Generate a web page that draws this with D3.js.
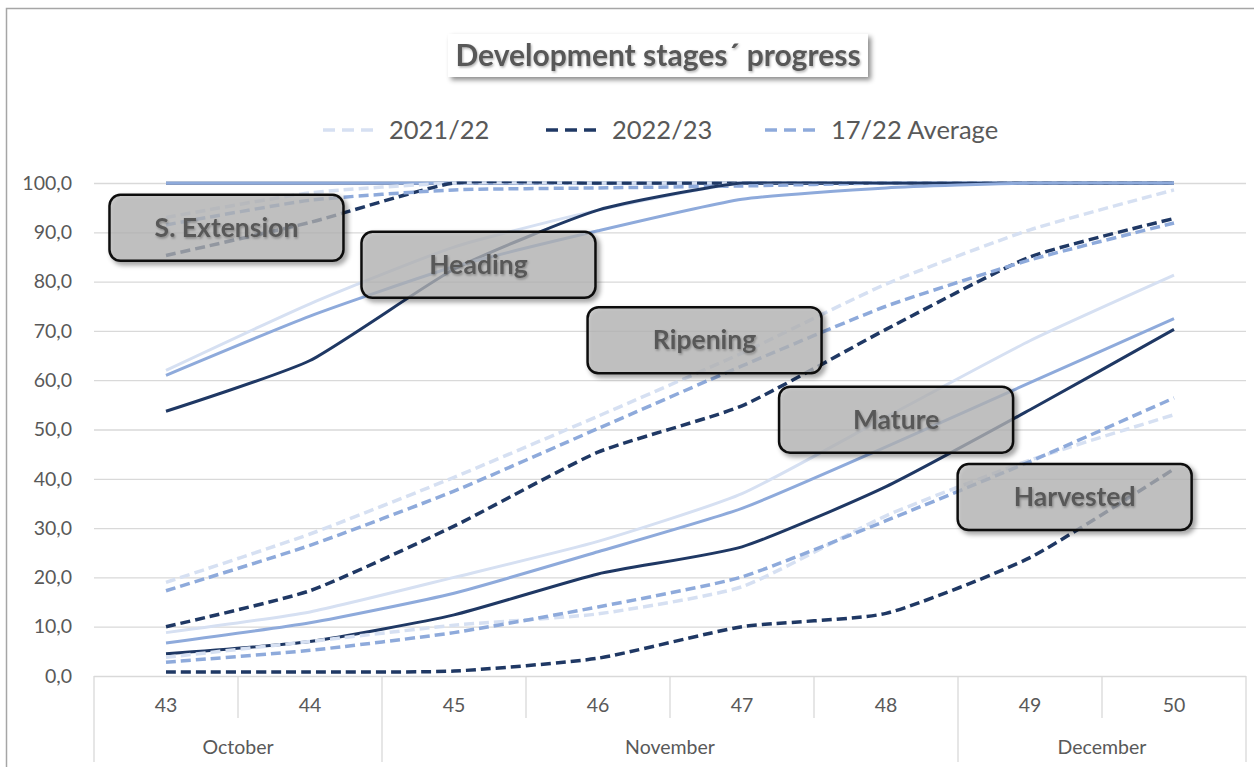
<!DOCTYPE html>
<html>
<head>
<meta charset="utf-8">
<script src="https://cdn.jsdelivr.net/npm/d3@7/dist/d3.min.js"></script>
<style>
  body { margin: 0; background: #fff; }
  svg { display: block; }
</style>
</head>
<body>
<div id="chart"></div>
<script>
// categories
var weeks = ['43', '44', '45', '46', '47', '48', '49', '50'];
var monthNames = ['October', 'November', 'December'];
var monthSpans = [2, 4, 2];
var seriesNames = ['2021/22', '2022/23', '17/22 Average'];
var yTicks = [0, 10, 20, 30, 40, 50, 60, 70, 80, 90, 100];

// stage values, % progress per week
var first2122 = [100, 100, 100, 100, 100, 100, 100, 100];
var first2223 = [100, 100, 100, 100, 100, 100, 100, 100];
var firstAvg  = [100, 100, 100, 100, 100, 100, 100, 100];

var sExt2122 = [93, 98, 100, 100, 100, 100, 100, 100];
var sExt2223 = [85.3, 92, 100, 100, 100, 100, 100, 100];
var sExtAvg  = [91.5, 96.5, 98.6, 99, 99.4, 100, 100, 100];

var heading2122 = [62, 75.5, 87, 94.5, 100, 100, 100, 100];
var heading2223 = [53.7, 64, 82.5, 94.5, 100, 100, 100, 100];
var headingAvg  = [61, 73, 83, 90.3, 96.7, 99, 100, 100];

var ripening2122 = [19, 28.8, 40.3, 52.7, 65.5, 79.5, 90.5, 98.6];
var ripening2223 = [10, 17.3, 30.4, 45.4, 54.8, 70.3, 85, 92.8];
var ripeningAvg  = [17.3, 26.5, 37.5, 50.2, 62.9, 75, 84.4, 91.9];

var mature2122 = [8.8, 13, 20, 27.3, 37, 52.5, 68, 81.3];
var mature2223 = [4.5, 7, 12.4, 20.7, 26.2, 38.4, 54, 70.3];
var matureAvg  = [6.7, 10.8, 16.8, 25.2, 34, 46.5, 59.5, 72.5];

var harvested2122 = [3.8, 7, 10.3, 12.6, 18.1, 32.5, 43.8, 53];
var harvested2223 = [0.8, 0.8, 1, 3.6, 10, 12.7, 24, 42];
var harvestedAvg  = [2.8, 5.2, 8.8, 14, 20.1, 31.5, 43.5, 56.4];

var stageNames = [null, 'S. Extension', 'Heading', 'Ripening', 'Mature', 'Harvested'];
var stageValues = [
	[first2122, first2223, firstAvg],
	[sExt2122, sExt2223, sExtAvg],
	[heading2122, heading2223, headingAvg],
	[ripening2122, ripening2223, ripeningAvg],
	[mature2122, mature2223, matureAvg],
	[harvested2122, harvested2223, harvestedAvg]
];
var stageDashed = [false, true, false, true, false, true];

// label anchors (week index, value) for the stage boxes
var labelAnchors = [null, [0.42, 90.9], [2.17, 83.4], [3.74, 68.1], [5.07, 52], [6.31, 36.3]];

var width = 1254, height = 767;
var colors = ['#d6e0f2', '#1f3864', '#8eaadb'];
var textColor = '#595959';
var font = 'Lato, "Open Sans", sans-serif';

var svg = d3.select('#chart')
	.append('svg')
	.attr('width', width)
	.attr('height', height)
	.style('font-family', font);

var defs = svg.append('defs');
var shadow = defs.append('filter').attr('id', 'shadow')
	.attr('x', '-10%').attr('y', '-20%').attr('width', '130%').attr('height', '160%');
shadow.append('feDropShadow')
	.attr('dx', 3).attr('dy', 3).attr('stdDeviation', 2.5)
	.attr('flood-color', '#000').attr('flood-opacity', 0.45);

var textShadow = defs.append('filter').attr('id', 'tshadow');
textShadow.append('feDropShadow')
	.attr('dx', 1).attr('dy', 1.5).attr('stdDeviation', 1.2)
	.attr('flood-color', '#000').attr('flood-opacity', 0.3);

//clip so the smoothing never pokes above 100
defs.append('clipPath').attr('id', 'plotclip')
	.append('rect')
	.attr('x', 0).attr('y', 181.5)
	.attr('width', width).attr('height', 600);

// outer frame
svg.append('path')
	.attr('d', 'M6.5,767 L6.5,8.5 L1254,8.5')
	.attr('fill', 'none')
	.attr('stroke', '#a6a6a6')
	.attr('stroke-width', 1.5);

// scales
var x = d3.scaleLinear().domain([-0.5, weeks.length - 0.5]).range([94, 1246]);
var y = d3.scaleLinear().domain([0, 100]).range([676, 183]);
var band = x(1) - x(0);

// gridlines + y axis labels
var yAxis = d3.axisLeft(y)
	.tickValues(yTicks)
	.tickSize(-(x.range()[1] - x.range()[0]))
	.tickPadding(22)
	.tickFormat(function (d) { return d3.format('.1f')(d).replace('.', ','); });

var gy = svg.append('g')
	.attr('transform', 'translate(' + x.range()[0] + ',0)')
	.call(yAxis);
gy.select('.domain').remove();
gy.selectAll('.tick line').attr('stroke', '#d9d9d9').attr('stroke-width', 1.3);
gy.selectAll('.tick text')
	.attr('fill', textColor)
	.style('font-size', '19.5px')
	.style('font-family', font);

// category axis: week ticks and month dividers
var xAxis = svg.append('g');
xAxis.selectAll('.wk')
	.data(weeks)
	.enter()
	.append('text')
	.attr('x', function (d, i) { return x(i); })
	.attr('y', 712)
	.attr('text-anchor', 'middle')
	.attr('fill', textColor)
	.style('font-size', '19.5px')
	.text(function (d) { return d; });

var monthStart = [];
var acc = 0;
monthSpans.forEach(function (s) { monthStart.push(acc); acc += s; });

// short dividers between weeks
xAxis.selectAll('.wkline')
	.data(d3.range(weeks.length + 1).filter(function (i) { return monthStart.indexOf(i) < 0 && i !== weeks.length; }))
	.enter()
	.append('line')
	.attr('x1', function (i) { return x(i - 0.5); })
	.attr('x2', function (i) { return x(i - 0.5); })
	.attr('y1', y(0))
	.attr('y2', 718)
	.attr('stroke', '#d9d9d9')
	.attr('stroke-width', 1.3);

// long dividers at month borders
xAxis.selectAll('.mline')
	.data(monthStart.concat([weeks.length]))
	.enter()
	.append('line')
	.attr('x1', function (i) { return x(i - 0.5); })
	.attr('x2', function (i) { return x(i - 0.5); })
	.attr('y1', y(0))
	.attr('y2', 762)
	.attr('stroke', '#d9d9d9')
	.attr('stroke-width', 1.3);

xAxis.selectAll('.month')
	.data(monthNames)
	.enter()
	.append('text')
	.attr('x', function (d, i) { return x(monthStart[i] - 0.5) + monthSpans[i] * band / 2; })
	.attr('y', 754)
	.attr('text-anchor', 'middle')
	.attr('fill', textColor)
	.style('font-size', '19.5px')
	.text(function (d) { return d; });

// lines
var line = d3.line()
	.x(function (d, i) { return x(i); })
	.y(function (d) { return y(d); })
	.curve(d3.curveCardinal.tension(0.45));

var lines = svg.append('g').attr('clip-path', 'url(#plotclip)');
stageValues.forEach(function (group, s) {
	group.forEach(function (vals, k) {
		lines.append('path')
			.datum(vals)
			.attr('d', line)
			.attr('fill', 'none')
			.attr('stroke', colors[k])
			.attr('stroke-width', stageDashed[s] ? 3.5 : 3)
			.attr('stroke-dasharray', stageDashed[s] ? '10,5' : null)
			.attr('stroke-linejoin', 'round');
	});
});

// stage labels
var labels = svg.append('g');
stageNames.forEach(function (name, s) {
	if (!name) return;
	var cx = x(labelAnchors[s][0]);
	var cy = y(labelAnchors[s][1]);
	var g = labels.append('g').attr('transform', 'translate(' + cx + ',' + cy + ')');
	g.append('rect')
		.attr('x', -117).attr('y', -33)
		.attr('width', 234).attr('height', 66)
		.attr('rx', 11).attr('ry', 11)
		.attr('fill', 'rgba(185,185,185,0.7)')
		.attr('stroke', '#111')
		.attr('stroke-width', 2.5)
		.attr('filter', 'url(#shadow)');
	g.append('text')
		.attr('text-anchor', 'middle')
		.attr('y', 9)
		.attr('fill', textColor)
		.attr('filter', 'url(#tshadow)')
		.style('font-size', '26.5px')
		.style('font-weight', 'bold')
		.text(name);
});

// title
var title = svg.append('g');
title.append('rect')
	.attr('x', 448).attr('y', 34)
	.attr('width', 420).attr('height', 43)
	.attr('fill', '#fff')
	.attr('filter', 'url(#shadow)');
title.append('text')
	.attr('x', 658)
	.attr('y', 66)
	.attr('text-anchor', 'middle')
	.attr('fill', textColor)
	.attr('filter', 'url(#tshadow)')
	.style('font-size', '30px')
	.style('font-weight', 'bold')
	.text('Development stages´ progress');

// legend
var legendX = [323, 546, 765];
var legend = svg.append('g');
seriesNames.forEach(function (name, k) {
	legend.append('line')
		.attr('x1', legendX[k]).attr('x2', legendX[k] + 55)
		.attr('y1', 130).attr('y2', 130)
		.attr('stroke', colors[k])
		.attr('stroke-width', 3.5)
		.attr('stroke-dasharray', '12,7');
	legend.append('text')
		.attr('x', legendX[k] + 66)
		.attr('y', 139)
		.attr('fill', textColor)
		.style('font-size', '25.5px')
		.text(name);
});
</script>
</body>
</html>
